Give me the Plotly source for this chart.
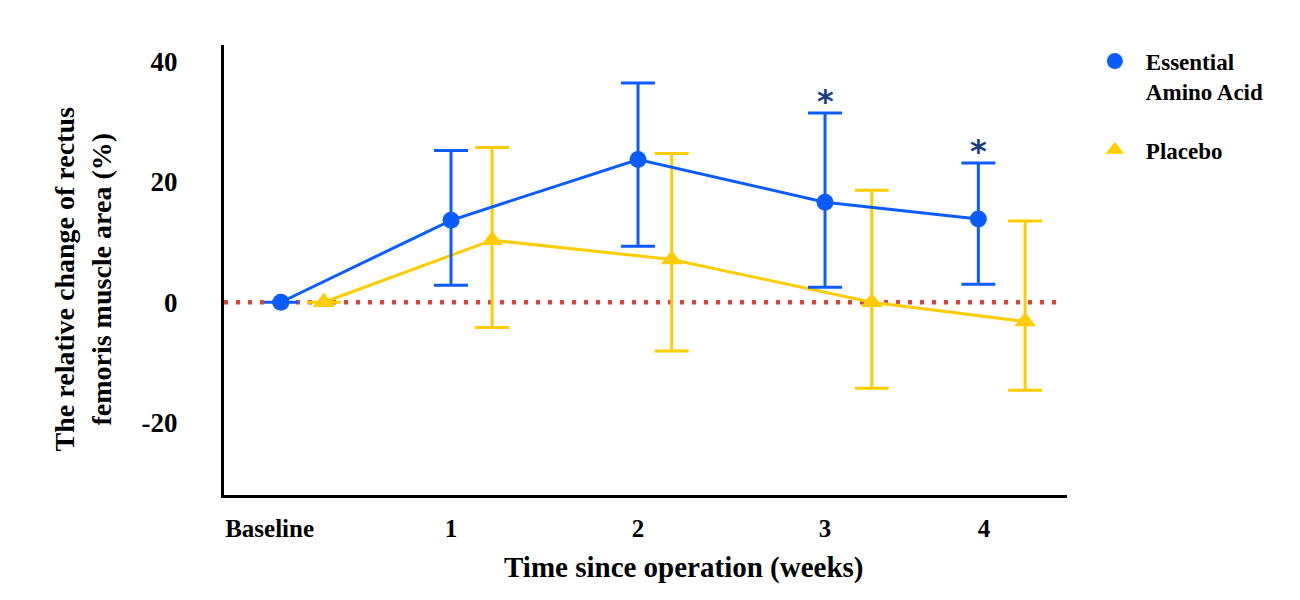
import plotly.graph_objects as go

# ---- data ----
tick_labels = ["Baseline", "1", "2", "3", "4"]
tick_pos = [0.03, 1.0, 2.0, 3.0, 3.85]
y_ticks = [-20, 0, 20, 40]
y_tick_labels = ["-20", "0", "20", "40"]

eaa_x = [0.09, 1.0, 2.0, 3.0, 3.82]
eaa_y = [0.0, 13.6, 23.7, 16.6, 13.8]
eaa_hi = [0.0, 25.2, 36.4, 31.4, 23.1]
eaa_lo = [0.0, 2.8, 9.3, 2.5, 3.0]

pl_x = [0.32, 1.22, 2.18, 3.25, 4.07]
pl_y = [0.0, 10.3, 7.1, 0.0, -3.2]
pl_hi = [0.0, 25.7, 24.7, 18.6, 13.5]
pl_lo = [0.0, -4.2, -8.1, -14.3, -14.6]

sig_x = [3.0, 3.82]
sig_hi = [31.4, 23.1]

BLUE = "#0a5cff"
YELLOW = "#ffcc00"
NAVY = "#1b3f7e"
RED = "#d9453a"
FONT = "Liberation Serif"

fig = go.Figure()

fig.add_trace(go.Scatter(
    x=pl_x, y=pl_y, mode="lines+markers", name="Placebo",
    line=dict(color=YELLOW, width=3),
    marker=dict(symbol="triangle-up", size=19, color=YELLOW),
    error_y=dict(type="data", symmetric=False,
                 array=[h - v for h, v in zip(pl_hi, pl_y)],
                 arrayminus=[v - l for l, v in zip(pl_lo, pl_y)],
                 color=YELLOW, thickness=3, width=17),
    showlegend=False,
))
fig.add_trace(go.Scatter(
    x=eaa_x, y=eaa_y, mode="lines+markers", name="Essential<br>Amino Acid",
    line=dict(color=BLUE, width=3),
    marker=dict(symbol="circle", size=17, color=BLUE),
    error_y=dict(type="data", symmetric=False,
                 array=[h - v for h, v in zip(eaa_hi, eaa_y)],
                 arrayminus=[v - l for l, v in zip(eaa_lo, eaa_y)],
                 color=BLUE, thickness=3, width=17),
    showlegend=False,
))

# legend-only entries
fig.add_trace(go.Scatter(x=[None], y=[None], mode="markers", name="Essential<br>Amino Acid",
                         legendgroup="a", legendrank=1,
                         marker=dict(symbol="circle", size=17, color=BLUE)))
fig.add_trace(go.Scatter(x=[None], y=[None], mode="markers", name="Placebo",
                         legendgroup="b", legendrank=2,
                         marker=dict(symbol="triangle-up", size=19, color=YELLOW)))

# zero reference line
fig.add_shape(type="line", xref="x", yref="y", x0=-0.214, x1=4.26, y0=0, y1=0,
              line=dict(color=RED, width=4.5, dash="4px,8px"), layer="below")

# significance stars
for sx, sh in zip(sig_x, sig_hi):
    fig.add_annotation(x=sx, y=sh, text="<b>*</b>", showarrow=False, yshift=12,
                       font=dict(family="DejaVu Sans", size=32, color=NAVY))

fig.add_annotation(text="The relative change of rectus<br>femoris muscle area (%)",
                   xref="paper", yref="paper", x=-0.168, y=0.48, textangle=-90,
                   showarrow=False, xanchor="center", yanchor="middle",
                   font=dict(family=FONT, size=28, color="black", weight="bold"))
fig.add_annotation(text="Time since operation (weeks)",
                   xref="paper", yref="paper", x=0.546, y=-0.162,
                   showarrow=False, xanchor="center", yanchor="middle",
                   font=dict(family=FONT, size=29, color="black", weight="bold"))

fig.update_layout(
    width=1300, height=600,
    margin=dict(l=216, r=241, t=37, b=113),
    plot_bgcolor="white", paper_bgcolor="white",
    font=dict(family=FONT, size=22, color="black", weight="bold"),
    legend=dict(x=1.02, y=1.012, xanchor="left", yanchor="top", valign="top",
                font=dict(family=FONT, size=23, weight="bold"), tracegroupgap=26,
                itemwidth=52, bgcolor="rgba(0,0,0,0)"),
    xaxis=dict(range=[-0.214, 4.294], tickmode="array", tickvals=tick_pos, ticktext=tick_labels,
               showgrid=False, zeroline=False, showline=True, linecolor="black", linewidth=3,
               ticks="", ticklabelstandoff=9,
               tickfont=dict(family=FONT, size=25, weight="bold")),
    yaxis=dict(range=[-32, 42.7], tickmode="array", tickvals=y_ticks, ticktext=y_tick_labels,
               showgrid=False, zeroline=False, showline=True, linecolor="black", linewidth=3,
               ticks="", ticklabelstandoff=38,
               tickfont=dict(family=FONT, size=27, weight="bold")),
)

fig.write_html("out.html")
